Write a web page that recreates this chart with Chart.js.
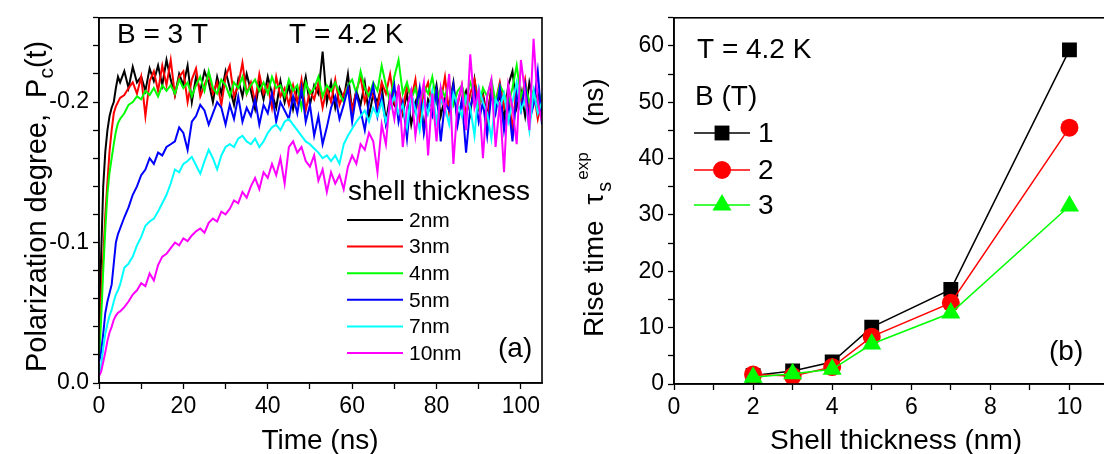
<!DOCTYPE html>
<html>
<head>
<meta charset="utf-8">
<script src="https://cdn.jsdelivr.net/npm/chart.js@4.4.0/dist/chart.umd.min.js"></script>
<style>
html, body { margin: 0; padding: 0; background: #fff; overflow: hidden; width: 1104px; height: 454px; }
#graficoA { position: absolute; left: 0; top: 0; }
#graficoB { position: absolute; left: 560px; top: 0; }
</style>
</head>
<body>
<canvas id="graficoA" width="560" height="454"></canvas>
<canvas id="graficoB" width="560" height="454"></canvas>
<script>
// painel (a): tempo (ns) e grau de polarização
const tempo = [0, 0.5, 1, 1.5, 2, 2.5, 3, 3.5, 4, 4.5, 5,
  6, 7, 8, 9, 10, 11, 12, 13, 14, 15,
  16, 17, 18, 19, 20, 21, 22, 23, 24, 25,
  26, 27, 28, 29, 30, 31, 32, 33, 34, 35,
  36, 37, 38, 39, 40, 41, 42, 43, 44, 45,
  46, 47, 48, 49, 50, 51, 52, 53, 54, 55,
  56, 57, 58, 59, 60, 61, 62, 63, 64, 65,
  66, 67, 68, 69, 70, 71, 72, 73, 74, 75,
  76, 77, 78, 79, 80, 81, 82, 83, 84, 85,
  86, 87, 88, 89, 90, 91, 92, 93, 94, 95,
  96, 97, 98, 99, 100, 101, 102, 103, 104, 105]

const pc2nm = [-.020, -.090, -.140, -.165, -.180, -.190, -.196, -.200, -.210, -.218, -.214,
  -.222, -.210, -.225, -.214, -.218, -.208, -.224, -.215, -.226, -.212,
  -.230, -.216, -.205, -.220, -.212, -.226, -.200, -.218, -.208, -.222,
  -.214, -.200, -.218, -.206, -.222, -.210, -.198, -.216, -.204, -.220,
  -.208, -.195, -.214, -.202, -.218, -.206, -.196, -.215, -.200, -.212,
  -.195, -.210, -.204, -.218, -.198, -.212, -.206, -.236, -.200, -.214,
  -.196, -.210, -.202, -.220, -.194, -.208, -.198, -.214, -.190, -.206,
  -.200, -.212, -.186, -.204, -.198, -.210, -.192, -.206, -.184, -.200,
  -.208, -.180, -.202, -.196, -.212, -.190, -.204, -.198, -.214, -.186,
  -.200, -.208, -.192, -.216, -.196, -.206, -.190, -.210, -.198, -.204,
  -.188, -.212, -.222, -.196, -.208, -.190, -.214, -.200, -.206, -.192]

const pc3nm = [-.020, -.060, -.090, -.120, -.143, -.165, -.180, -.192, -.197, -.200, -.203,
  -.205, -.210, -.214, -.206, -.218, -.190, -.215, -.222, -.208, -.226,
  -.212, -.230, -.205, -.218, -.222, -.200, -.216, -.224, -.204, -.212,
  -.220, -.206, -.214, -.198, -.218, -.226, -.204, -.212, -.228, -.206,
  -.214, -.200, -.220, -.206, -.212, -.196, -.218, -.204, -.210, -.198,
  -.212, -.200, -.216, -.194, -.208, -.202, -.214, -.196, -.210, -.200,
  -.216, -.198, -.206, -.212, -.194, -.208, -.218, -.200, -.210, -.204,
  -.196, -.214, -.206, -.220, -.200, -.210, -.194, -.212, -.202, -.216,
  -.188, -.206, -.214, -.196, -.208, -.200, -.218, -.192, -.206, -.198,
  -.212, -.190, -.206, -.216, -.198, -.204, -.184, -.210, -.200, -.214,
  -.196, -.206, -.180, -.212, -.200, -.216, -.194, -.208, -.188, -.202]

const pc4nm = [-.015, -.045, -.080, -.110, -.135, -.150, -.160, -.170, -.179, -.185, -.188,
  -.192, -.198, -.200, -.204, -.202, -.208, -.205, -.210, -.204, -.212,
  -.208, -.212, -.206, -.216, -.210, -.214, -.204, -.212, -.218, -.208,
  -.222, -.210, -.206, -.216, -.212, -.204, -.214, -.210, -.218, -.206,
  -.212, -.216, -.208, -.214, -.206, -.218, -.210, -.212, -.204, -.216,
  -.208, -.212, -.196, -.214, -.206, -.210, -.218, -.204, -.212, -.208,
  -.214, -.206, -.200, -.212, -.216, -.206, -.222, -.210, -.204, -.214,
  -.208, -.226, -.212, -.200, -.218, -.230, -.206, -.214, -.202, -.210,
  -.196, -.212, -.206, -.218, -.200, -.210, -.204, -.214, -.198, -.208,
  -.212, -.200, -.214, -.206, -.196, -.210, -.204, -.216, -.200, -.212,
  -.206, -.198, -.210, -.226, -.204, -.212, -.200, -.208, -.196, -.206]

const pc5nm = [-.015, -.022, -.035, -.050, -.058, -.064, -.070, -.085, -.100, -.106, -.110,
  -.118, -.125, -.134, -.140, -.148, -.152, -.160, -.156, -.164, -.162,
  -.168, -.170, -.172, -.182, -.178, -.166, -.186, -.190, -.198, -.194,
  -.184, -.192, -.200, -.196, -.184, -.198, -.188, -.204, -.186, -.196,
  -.190, -.202, -.184, -.198, -.192, -.206, -.186, -.200, -.194, -.188,
  -.204, -.192, -.210, -.186, -.198, -.176, -.190, -.170, -.182, -.196,
  -.204, -.188, -.198, -.210, -.186, -.206, -.194, -.180, -.200, -.212,
  -.190, -.204, -.184, -.198, -.212, -.186, -.200, -.174, -.206, -.194,
  -.210, -.178, -.198, -.190, -.208, -.172, -.200, -.194, -.212, -.184,
  -.202, -.164, -.196, -.208, -.186, -.200, -.176, -.206, -.192, -.210,
  -.180, -.200, -.172, -.206, -.194, -.212, -.186, -.198, -.222, -.184]

const pc7nm = [-.005, -.012, -.025, -.035, -.042, -.048, -.052, -.058, -.063, -.066, -.070,
  -.082, -.085, -.090, -.098, -.104, -.112, -.115, -.117, -.122, -.128,
  -.134, -.142, -.152, -.150, -.156, -.158, -.161, -.155, -.149, -.158,
  -.166, -.160, -.152, -.162, -.168, -.170, -.168, -.174, -.176, -.172,
  -.170, -.174, -.168, -.172, -.178, -.182, -.184, -.180, -.186, -.188,
  -.184, -.180, -.176, -.172, -.170, -.167, -.164, -.160, -.162, -.158,
  -.162, -.156, -.170, -.176, -.181, -.186, -.190, -.194, -.186, -.196,
  -.190, -.200, -.186, -.196, -.204, -.192, -.198, -.182, -.206, -.194,
  -.180, -.200, -.192, -.208, -.186, -.202, -.196, -.184, -.206, -.198,
  -.190, -.204, -.196, -.176, -.210, -.200, -.192, -.174, -.202, -.196,
  -.206, -.186, -.200, -.214, -.194, -.202, -.180, -.208, -.192, -.200]

const pc10nm = [-.005, -.008, -.015, -.022, -.030, -.036, -.040, -.045, -.048, -.050, -.051,
  -.054, -.058, -.063, -.066, -.071, -.069, -.078, -.073, -.084, -.090,
  -.092, -.096, -.100, -.098, -.103, -.101, -.105, -.108, -.110, -.107,
  -.114, -.117, -.115, -.122, -.120, -.124, -.130, -.128, -.136, -.132,
  -.140, -.146, -.138, -.150, -.146, -.156, -.148, -.160, -.142, -.168,
  -.172, -.164, -.168, -.158, -.154, -.162, -.144, -.152, -.136, -.150,
  -.142, -.148, -.138, -.154, -.162, -.156, -.170, -.166, -.178, -.172,
  -.150, -.184, -.170, -.204, -.188, -.212, -.168, -.196, -.208, -.176,
  -.198, -.214, -.162, -.206, -.172, -.210, -.194, -.220, -.156, -.200,
  -.212, -.180, -.234, -.196, -.208, -.160, -.204, -.216, -.168, -.200,
  -.150, -.212, -.196, -.170, -.230, -.206, -.180, -.245, -.200, -.186]

const espessurasA = ['2nm', '3nm', '4nm', '5nm', '7nm', '10nm']
const coresA = ['#000000', '#ff0000', '#00ff00', '#0000ff', '#00ffff', '#ff00ff']

// painel (b): tempo de subida vs espessura da casca
const espessuras = [2, 3, 4, 5, 7, 10]
const subida1T = [1.5, 2.3, 3.9, 10.1, 16.8, 59.3]
const subida2T = [1.7, 1.4, 3.0, 8.4, 14.4, 45.5]
const subida3T = [1.2, 1.8, 2.6, 7.1, 12.6, 31.6]
const camposB = ['1', '2', '3']
const coresB = ['#000000', '#ff0000', '#00ff00']

const fonte = "'Liberation Sans', Arial, sans-serif"
Chart.defaults.font.family = fonte
Chart.defaults.color = '#000'

const seriesA = [pc2nm, pc3nm, pc4nm, pc5nm, pc7nm, pc10nm]

// moldura em volta da área do gráfico
const moldura = {
    id: 'moldura',
    afterDraw(chart) {
        const { ctx, chartArea: a } = chart
        ctx.save()
        ctx.strokeStyle = '#000'
        ctx.lineWidth = 1.6
        ctx.strokeRect(a.left, a.top, a.right - a.left, a.bottom - a.top)
        ctx.restore()
    }
}

const textosA = {
    id: 'textosA',
    afterDraw(chart) {
        const ctx = chart.ctx
        ctx.save()
        ctx.fillStyle = '#000'
        ctx.textBaseline = 'alphabetic'
        ctx.font = '28px ' + fonte
        ctx.fillText('B = 3 T', 117, 43)
        ctx.fillText('T = 4.2 K', 289, 43)
        ctx.fillText('(a)', 498, 357)
        ctx.fillText('shell thickness', 348, 200)
        // legenda
        ctx.font = '21px ' + fonte
        ctx.textBaseline = 'middle'
        chart.data.datasets.forEach((ds, i) => {
            const y = 220 + i * 26.6
            ctx.strokeStyle = ds.borderColor
            ctx.lineWidth = 2
            ctx.beginPath()
            ctx.moveTo(347, y)
            ctx.lineTo(403, y)
            ctx.stroke()
            ctx.fillText(ds.label, 409, y + 1)
        })
        // título do eixo y com subscrito
        ctx.translate(46, 372)
        ctx.rotate(-Math.PI / 2)
        ctx.textBaseline = 'alphabetic'
        let x = 0
        ctx.font = '29px ' + fonte
        const t1 = 'Polarization degree,  P'
        ctx.fillText(t1, x, 0)
        x += ctx.measureText(t1).width
        ctx.font = '21px ' + fonte
        ctx.fillText('c', x, 7)
        x += ctx.measureText('c').width
        ctx.font = '29px ' + fonte
        ctx.fillText('(t)', x, 0)
        ctx.restore()
        ctx.save()
        ctx.font = '28px ' + fonte
        ctx.textAlign = 'center'
        ctx.fillText('Time (ns)', 320, 449)
        ctx.restore()
    }
}

const textosB = {
    id: 'textosB',
    afterDraw(chart) {
        const ctx = chart.ctx
        ctx.save()
        ctx.fillStyle = '#000'
        ctx.font = '28px ' + fonte
        ctx.fillText('T = 4.2 K', 137, 58)
        ctx.fillText('B (T)', 135, 105)
        ctx.fillText('(b)', 489, 360)
        ctx.textAlign = 'center'
        ctx.fillText('Shell thickness (nm)', 336, 449)
        ctx.textAlign = 'left'
        ctx.textBaseline = 'middle'
        const linhas = [133, 170, 205]
        chart.data.datasets.forEach((ds, i) => {
            const y = linhas[i]
            ctx.strokeStyle = ds.borderColor
            ctx.lineWidth = 1.5
            ctx.beginPath()
            ctx.moveTo(134, y)
            ctx.lineTo(190, y)
            ctx.stroke()
            ctx.fillStyle = ds.backgroundColor
            Chart.helpers.drawPoint(ctx, { pointStyle: ds.pointStyle, radius: ds.pointRadius, rotation: 0, borderWidth: 0 }, 162, y)
            ctx.fillStyle = '#000'
            ctx.fillText(ds.label, 198, y + 1)
        })
        // título do eixo y: tau com sub e sobrescrito
        ctx.translate(43, 337)
        ctx.rotate(-Math.PI / 2)
        ctx.textBaseline = 'alphabetic'
        ctx.font = '28px ' + fonte
        const t1 = 'Rise time  \u03c4'
        ctx.fillText(t1, 0, 0)
        let x = ctx.measureText(t1).width
        ctx.font = '20px ' + fonte
        ctx.fillText('s', x + 2, 8)
        ctx.font = '17px ' + fonte
        ctx.fillText('exp', x + 14, -15)
        x += 14 + ctx.measureText('exp').width + 26
        ctx.font = '28px ' + fonte
        ctx.fillText('(ns)', x, 0)
        ctx.restore()
    }
}

const eixoComum = (tam) => ({
    border: { color: '#000', width: 1.6 },
    grid: { drawOnChartArea: false, drawTicks: true, tickLength: 6, tickColor: '#000', tickWidth: 1.3 },
    ticks: { color: '#000', font: { size: tam }, autoSkip: false, maxRotation: 0, includeBounds: false, padding: 4 }
})

// gráfico (a)
const eixoXA = eixoComum(23)
eixoXA.type = 'linear'
eixoXA.min = 0
eixoXA.max = 105
eixoXA.afterFit = s => { s.height = 71 }
eixoXA.ticks.stepSize = 10
eixoXA.ticks.callback = v => Math.round(v) % 20 === 0 ? String(Math.round(v)) : ''

const eixoYA = eixoComum(23)
eixoYA.type = 'linear'
eixoYA.reverse = true
eixoYA.min = -0.26
eixoYA.max = 0
eixoYA.afterFit = s => { s.width = 99 }
eixoYA.ticks.stepSize = 0.02
eixoYA.ticks.callback = v => {
    const k = Math.round(v * 100)
    if (k % 10 !== 0) return ''
    return k === 0 ? '0.0' : (k / 100).toFixed(1)
}

new Chart(document.getElementById('graficoA'), {
    type: 'line',
    data: {
        datasets: seriesA.map((serie, i) => ({
            label: espessurasA[i],
            data: tempo.map((t, j) => ({ x: t, y: serie[j] })),
            borderColor: coresA[i],
            backgroundColor: coresA[i],
            borderWidth: 2,
            pointRadius: 0,
            tension: 0,
            order: 5 - i
        }))
    },
    options: {
        responsive: false,
        animation: false,
        devicePixelRatio: 1,
        layout: { padding: { left: 0, top: 15, right: 18, bottom: 0 } },
        plugins: { legend: { display: false }, tooltip: { enabled: false } },
        scales: { x: eixoXA, y: eixoYA }
    },
    plugins: [moldura, textosA]
})

// gráfico (b)
const eixoXB = eixoComum(23)
eixoXB.type = 'linear'
eixoXB.min = 0
eixoXB.max = 11
eixoXB.afterFit = s => { s.height = 70 }
eixoXB.ticks.stepSize = 1
eixoXB.ticks.callback = v => Math.round(v) % 2 === 0 ? String(Math.round(v)) : ''

const eixoYB = eixoComum(23)
eixoYB.type = 'linear'
eixoYB.min = 0
eixoYB.max = 65
eixoYB.afterFit = s => { s.width = 114 }
eixoYB.ticks.stepSize = 5
eixoYB.ticks.callback = v => Math.round(v) % 10 === 0 ? String(Math.round(v)) : ''

const seriesB = [subida1T, subida2T, subida3T]
const simbolosB = ['rect', 'circle', 'triangle']
const raiosB = [10.5, 9, 11]

new Chart(document.getElementById('graficoB'), {
    type: 'scatter',
    data: {
        datasets: seriesB.map((serie, i) => ({
            label: camposB[i],
            data: espessuras.map((e, j) => ({ x: e, y: serie[j] })),
            showLine: true,
            borderColor: coresB[i],
            backgroundColor: coresB[i],
            borderWidth: 1.5,
            pointStyle: simbolosB[i],
            pointRadius: raiosB[i],
            pointBorderWidth: 0,
            order: 2 - i
        }))
    },
    options: {
        responsive: false,
        animation: false,
        devicePixelRatio: 1,
        layout: { padding: { left: 0, top: 15, right: 4, bottom: 0 } },
        plugins: { legend: { display: false }, tooltip: { enabled: false } },
        scales: { x: eixoXB, y: eixoYB }
    },
    plugins: [moldura, textosB]
})
</script>
</body>
</html>
